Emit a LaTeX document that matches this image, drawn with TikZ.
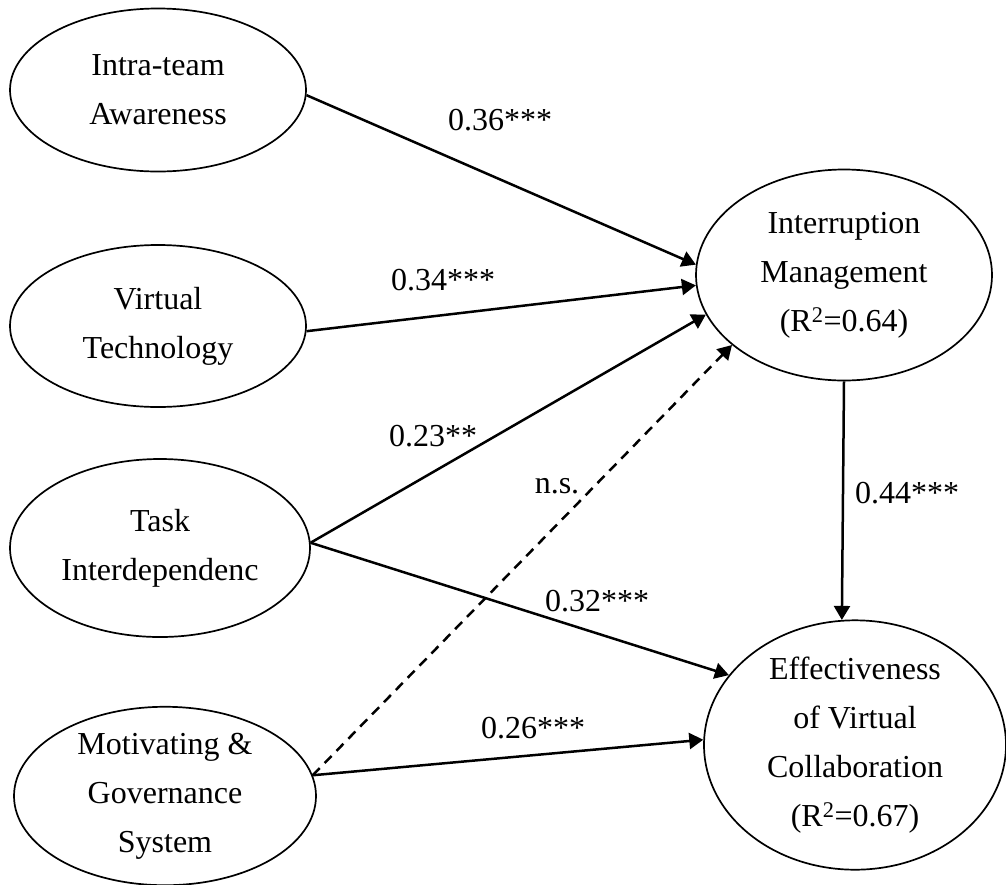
\documentclass[tikz,border=0pt]{standalone}
\usepackage{fontspec}
\setmainfont{Liberation Serif}
\usetikzlibrary{shapes.geometric,arrows.meta}
\begin{document}
\begin{tikzpicture}[x=1pt,y=-1pt,
  every node/.style={font=\fontsize{32}{49}\selectfont},
  construct/.style={ellipse,draw,line width=1.7pt,inner sep=0pt,align=center},
  path/.style={line width=2.5pt,-{Triangle[length=14pt,width=16pt]}},
  nspath/.style={path,dash pattern=on 10pt off 7pt},
  coef/.style={inner sep=0pt}]
\useasboundingbox (0,0) rectangle (1006,884);

% exogenous constructs
\node[construct,minimum width=296pt,minimum height=163pt] (ia) at (158,90) {Intra-team\\Awareness};
\node[construct,minimum width=296pt,minimum height=162pt] (vt) at (158,326) {Virtual\\Technology};
\node[construct,minimum width=300pt,minimum height=178pt] (ti) at (160,548) {Task\\Interdependenc};
\node[construct,minimum width=302pt,minimum height=176pt] (mg) at (165,796) {Motivating \&\\Governance\\System};

% endogenous constructs
\node[construct,minimum width=296pt,minimum height=211pt] (im) at (844,275) {Interruption\\Management\\(R\textsuperscript{2}=0.64)};
\node[construct,minimum width=302pt,minimum height=219pt] (ev) at (855,745) {Effectiveness\\of Virtual\\Collaboration\\(R\textsuperscript{2}=0.67)};

% structural paths
\draw[path] (ia.-2) -- (im.176);
\draw[path] (vt.-2) -- (im.184);
\draw[path] (ti.2) -- (im.196);
\draw[nspath] (mg.8.5) -- (im.212);
\draw[path] (ti.2) -- (ev.151);
\draw[path] (mg.8.5) -- (ev.178);
\draw[path] (im.south) -- (ev.96);

% path coefficients
\node[coef] (c1) at (500,120) {0.36***};
\node[coef] (c2) at (443,280) {0.34***};
\node[coef] (c3) at (433,436) {0.23**};
\node[coef] (c4) at (557,486) {n.s.};
\node[coef] (c5) at (597,601) {0.32***};
\node[coef] (c6) at (533,728) {0.26***};
\node[coef] (c7) at (907,493) {0.44***};
\end{tikzpicture}
\end{document}
